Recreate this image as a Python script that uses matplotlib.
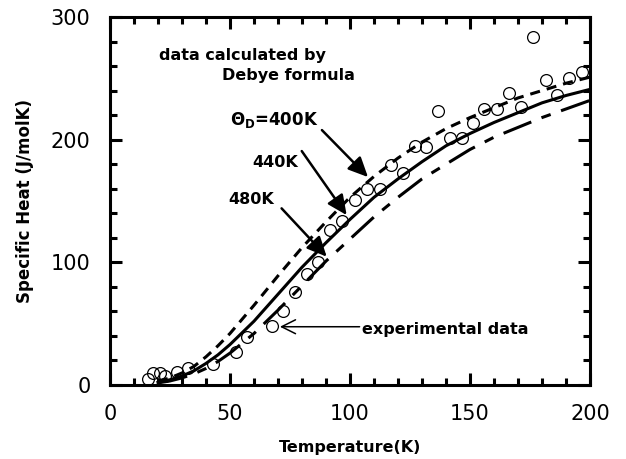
import matplotlib.pyplot as plt
from matplotlib.ticker import MultipleLocator

# Debye curves (J/molK) for three Debye temperatures
temp_calc = [20, 25, 30, 35, 40, 45, 50, 60, 70, 80, 90, 100, 110, 120, 130,
             140, 150, 160, 170, 180, 190, 200]
heat_400 = [3.0, 5.8, 9.8, 15.2, 23, 32, 42, 65, 89, 112, 133, 153, 170, 185,
            198, 209, 218, 226, 234, 240, 246, 251]
heat_440 = [2.2, 4.3, 7.3, 11.6, 17.6, 24.6, 33, 52, 74, 96, 116, 135, 153,
            168, 182, 195, 205, 214, 222, 230, 236, 241]
heat_480 = [1.7, 3.3, 5.8, 9.1, 13.5, 19.2, 26, 42, 61, 81, 101, 119, 137,
            153, 168, 180, 192, 202, 210, 218, 225, 232]

# experimental points
temp_exp = [16, 18, 20.8, 23, 27.8, 32.6, 43, 52.7, 57, 67.5, 72, 77, 82,
            86.8, 91.7, 96.5, 102, 107.2, 112.3, 117, 122, 127, 131.7, 136.5,
            141.7, 146.7, 151.4, 156, 161.2, 166.2, 171.3, 176.4, 181.5,
            186.4, 191.2, 196.5]
heat_exp = [4.6, 10, 9.5, 7.3, 10.8, 14.1, 17, 27, 39, 48.5, 60, 75.5, 90.5,
            100.5, 126, 134, 151, 160, 160, 179, 173, 195, 194, 223.5, 201.5,
            201.5, 213.5, 225, 225, 238, 226.5, 284, 249, 236.5, 250.5, 255]

fig = plt.figure(figsize=(6.26, 4.59), dpi=100)
ax = fig.add_axes([0.1757, 0.1612, 0.7668, 0.8018])

lw = 2.2
ax.plot(temp_calc, heat_400, color='black', lw=lw, dashes=(3.3, 2.3))
ax.plot(temp_calc, heat_440, color='black', lw=lw)
ax.plot(temp_calc, heat_480, color='black', lw=lw, dashes=(9.8, 3.6, 3.2, 3.6))
ax.plot(temp_exp, heat_exp, 'o', mfc='none', mec='black', ms=8.5, mew=0.9)

ax.set_xlim(0, 200)
ax.set_ylim(0, 300)
ax.xaxis.set_major_locator(MultipleLocator(50))
ax.xaxis.set_minor_locator(MultipleLocator(10))
ax.yaxis.set_major_locator(MultipleLocator(100))
ax.yaxis.set_minor_locator(MultipleLocator(20))
ax.tick_params(which='both', direction='in', top=True, right=True,
               width=2.2, labelsize=15, pad=14)
ax.tick_params(which='major', length=8.5)
ax.tick_params(which='minor', length=5)
for sp in ax.spines.values():
    sp.set_linewidth(2.2)

ax.set_xlabel('Temperature(K)', fontsize=11.5, fontweight='bold', labelpad=11)
ax.set_ylabel('Specific Heat (J/molK)', fontsize=12, fontweight='bold', labelpad=12)

# annotations
tk = dict(fontsize=11.5, fontweight='bold')
ax.text(55, 269, 'data calculated by', ha='center', va='center', **tk)
ax.text(74.2, 252, 'Debye formula', ha='center', va='center', **tk)
ax.text(50, 216, r'$\mathbf{\Theta}_{\mathbf{D}}$=400K', ha='left', va='center',
        fontsize=12, fontweight='bold')
ax.text(59.2, 181, '440K', ha='left', va='center', **tk)
ax.text(49.2, 151, '480K', ha='left', va='center', **tk)
ax.text(105, 45.6, 'experimental data', ha='left', va='center', **tk)

heavy = dict(arrowstyle='-|>,head_length=0.6,head_width=0.28', color='black',
             lw=1.8, mutation_scale=20, shrinkA=0, shrinkB=0)
ax.annotate('', xy=(107.5, 169.5), xytext=(88.3, 207.8), arrowprops=heavy)
ax.annotate('', xy=(98.6, 138.5), xytext=(79.9, 190.7), arrowprops=heavy)
ax.annotate('', xy=(90.3, 104.6), xytext=(71.5, 144), arrowprops=heavy)
ax.annotate('', xy=(70.8, 47.5), xytext=(104, 47.5),
            arrowprops=dict(arrowstyle='->,head_length=0.5,head_width=0.25',
                            color='black', lw=1.1, mutation_scale=20,
                            shrinkA=0, shrinkB=0))

fig.savefig('out.png', dpi=100)
